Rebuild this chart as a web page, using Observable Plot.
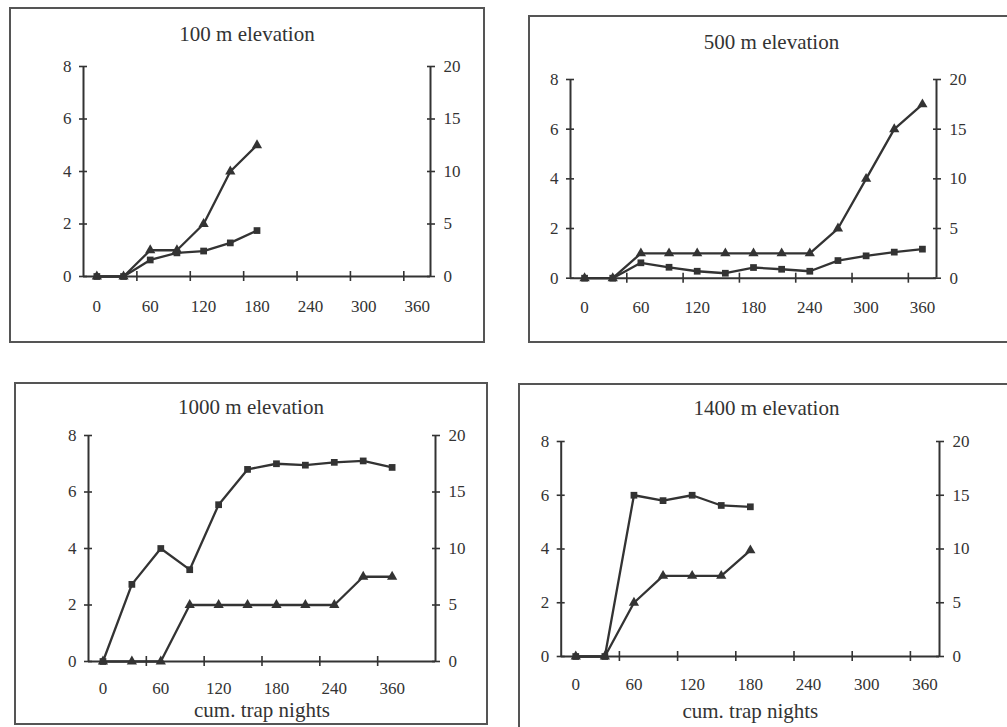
<!DOCTYPE html>
<html><head><meta charset="utf-8">
<script src="https://cdn.jsdelivr.net/npm/d3@7"></script>
<script src="https://cdn.jsdelivr.net/npm/@observablehq/plot@0.6"></script>
<style>
html,body{margin:0;padding:0;background:#fff;}
body{width:1007px;height:727px;overflow:hidden;position:relative;font-family:"Liberation Serif",serif;}
.box{position:absolute;border:2px solid #555;box-sizing:border-box;}
.plot{position:absolute;}
.title{position:absolute;text-align:center;font-family:"Liberation Serif",serif;font-size:21px;color:#333;line-height:21px;}
</style></head><body>
<script>
// ---- data (left-axis units) ----
const cats13 = [0,30,60,90,120,150,180,210,240,270,300,330,360];
const cats1000 = [0,30,60,90,120,150,180,210,240,300,360,390];

const squares100   = [0,0,0.63,0.90,0.97,1.28,1.75];
const triangles100 = [0,0,1,1,2,4,5];

const squares500   = [0,0,0.62,0.44,0.28,0.20,0.43,0.36,0.28,0.71,0.90,1.05,1.17];
const triangles500 = [0,0,1,1,1,1,1,1,1,2,4,6,7];

const squares1000   = [0,2.73,4.0,3.25,5.55,6.8,7.0,6.95,7.05,7.1,6.87];
const triangles1000 = [0,0,0,2,2,2,2,2,2,3,3];

const squares1400   = [0,0,6.0,5.8,6.0,5.62,5.57];
const triangles1400 = [0,0,2,3,3,3,3.95];

const leftTicks = [0,2,4,6,8];
const rightTickLabels = [0,5,10,15,20];
const titles = ["100 m elevation","500 m elevation","1000 m elevation","1400 m elevation"];
const xLabel = "cum. trap nights";

// ---- layout ----
const panels = [
  {title: titles[0], cats: cats13, sq: squares100, tr: triangles100,
   box:{x:9,y:7,w:476,h:336}, frame:{l:83,r:430,t:66,b:276}, titleY:35, tickPad:23.5, xlab:null},
  {title: titles[1], cats: cats13, sq: squares500, tr: triangles500,
   box:{x:528,y:15,w:487,h:328}, frame:{l:570,r:936,t:79,b:277.7}, titleY:43, tickPad:23, xlab:null},
  {title: titles[2], cats: cats1000, sq: squares1000, tr: triangles1000,
   box:{x:14,y:382,w:474,h:343}, frame:{l:88,r:435,t:435,b:661}, titleY:408, tickPad:20.5, xlab:49},
  {title: titles[3], cats: cats13, sq: squares1400, tr: triangles1400,
   box:{x:518,y:383,w:497,h:352}, frame:{l:560.7,r:939,t:441,b:656}, titleY:409, tickPad:21.5, xlab:55}
];

const ink = "#333";

for (const p of panels) {
  const b = p.box, f = p.frame;
  const border = document.createElement("div");
  border.className = "box";
  Object.assign(border.style, {left:b.x+"px", top:b.y+"px", width:b.w+"px", height:b.h+"px"});
  document.body.appendChild(border);

  const n = p.cats.length;
  const xmin = -0.5, xmax = n - 0.5;
  const xTicks = d3.range(1.5, n - 0.5, 2);
  const labelIdx = d3.range(0, n, 2);
  const sqData = p.sq.map((v,i) => ({i, v}));
  const trData = p.tr.map((v,i) => ({i, v}));

  const marks = [
    Plot.ruleY([0], {stroke: ink, strokeWidth: 2}),
    Plot.ruleX([xmin, xmax], {stroke: ink, strokeWidth: 2}),
    Plot.axisY({anchor:"left", label:null, ticks:leftTicks, tickSize:8, dx:4, tickFormat:()=>"", stroke:ink, strokeWidth:1.6}),
    Plot.axisY({anchor:"left", label:null, ticks:leftTicks, tickSize:0, tickPadding:12, fill:ink}),
    Plot.axisY({anchor:"right", label:null, ticks:leftTicks, tickSize:8, dx:-4, tickFormat:()=>"", stroke:ink, strokeWidth:1.6}),
    Plot.axisY({anchor:"right", label:null, ticks:leftTicks, tickSize:0, tickPadding:13, fill:ink,
      tickFormat: d => rightTickLabels[leftTicks.indexOf(d)]}),
    Plot.axisX({anchor:"bottom", label:null, ticks:xTicks, tickSize:10, dy:-5, tickFormat:()=>"", stroke:ink, strokeWidth:1.6}),
    Plot.axisX({anchor:"bottom", label:null, ticks:labelIdx, tickSize:0, tickPadding:p.tickPad, fill:ink,
      tickFormat: i => p.cats[i]}),
    Plot.line(trData, {x:"i", y:"v", stroke:ink, strokeWidth:2.3}),
    Plot.line(sqData, {x:"i", y:"v", stroke:ink, strokeWidth:2.3}),
    Plot.dot(trData, {x:"i", y:"v", symbol:"triangle", r:3.8, fill:ink}),
    Plot.dot(sqData, {x:"i", y:"v", symbol:"square", r:3.8, fill:ink})
  ];
  if (p.xlab != null) {
    marks.push(Plot.text([xLabel], {frameAnchor:"bottom", dy:p.xlab, lineAnchor:"middle",
      fontSize:21, fill:ink}));
  }

  const chart = Plot.plot({
    width: b.w, height: b.h,
    marginLeft: f.l - b.x, marginRight: b.x + b.w - f.r,
    marginTop: f.t - b.y, marginBottom: b.y + b.h - f.b,
    x: {domain:[xmin, xmax], axis:null, label:null},
    y: {domain:[0, 8], axis:null, label:null},
    style: {fontFamily:"Liberation Serif", fontSize:"17px", color:ink, background:"transparent", overflow:"visible"},
    marks
  });
  chart.classList.add("plot");
  Object.assign(chart.style, {left:b.x+"px", top:b.y+"px"});
  document.body.appendChild(chart);

  const t = document.createElement("div");
  t.className = "title";
  t.textContent = p.title;
  Object.assign(t.style, {left:b.x+"px", width:b.w+"px", top:(p.titleY-11)+"px"});
  document.body.appendChild(t);
}
</script>
</body></html>
